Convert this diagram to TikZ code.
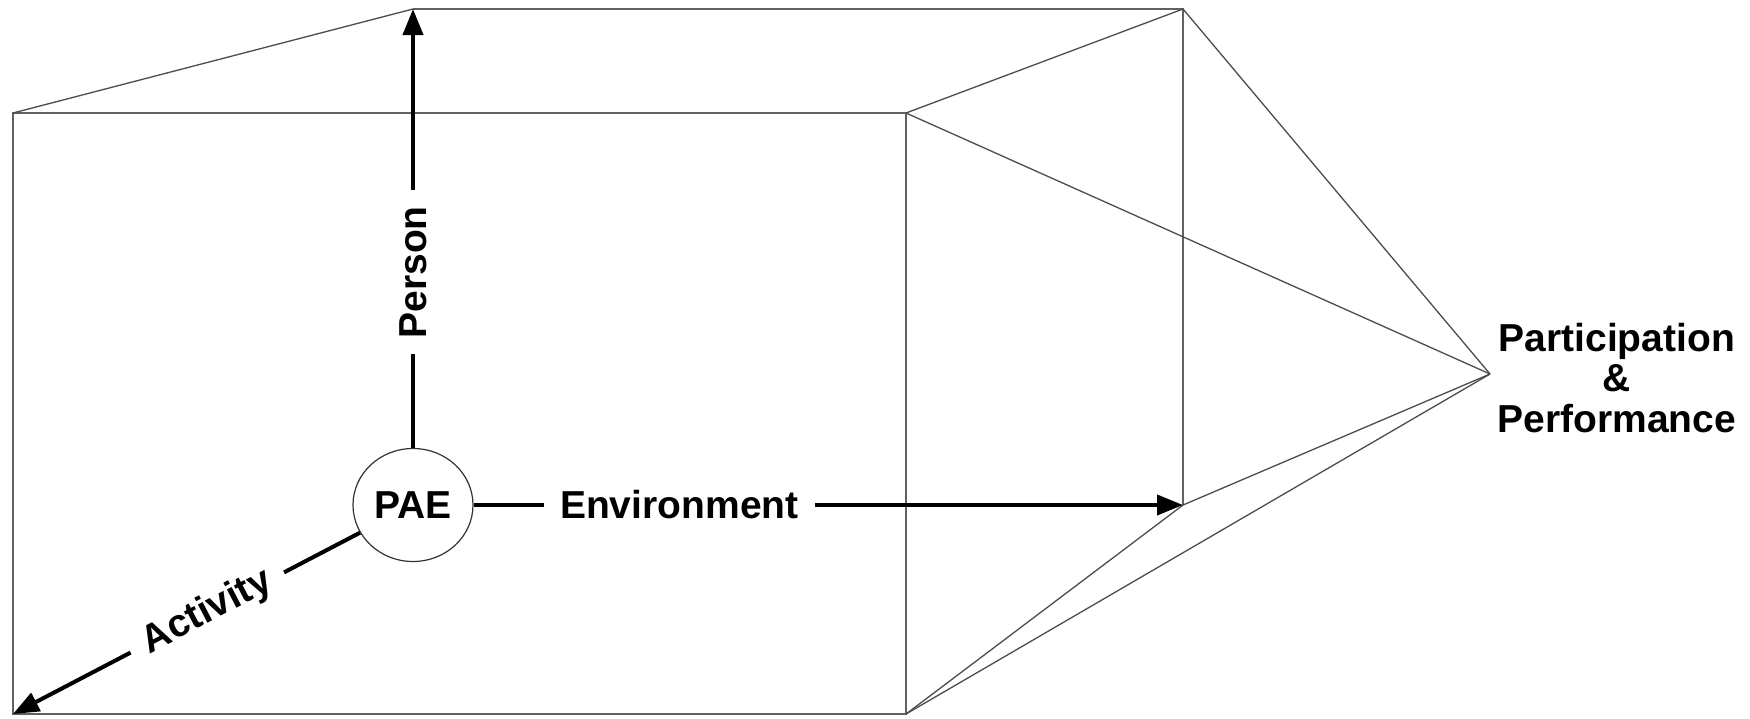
\documentclass[tikz,border=0pt]{standalone}
\usepackage{fontspec}
\setmainfont{Liberation Sans}
\usetikzlibrary{arrows.meta,shapes.geometric}
\begin{document}
\begin{tikzpicture}[x=1pt,y=-1pt,
  edge/.style={draw=black!62,line width=1.8pt},
  thinline/.style={draw=black!70,line width=1.3pt},
  axis/.style={draw=black,line width=4pt,-{Triangle[length=26pt,width=20pt]}},
  axlabel/.style={fill=white,inner xsep=16pt,inner ysep=4pt,font=\bfseries\fontsize{39}{41}\selectfont},
  txt/.style={font=\bfseries\fontsize{39}{40.5}\selectfont,align=center}]
\useasboundingbox (0,0) rectangle (1750,718);
% corners
\coordinate (ftl) at (13,113);
\coordinate (ftr) at (906,113);
\coordinate (fbl) at (13,714);
\coordinate (fbr) at (906,714);
\coordinate (btl) at (413,9);
\coordinate (btr) at (1183,9);
\coordinate (bbr) at (1183,505);
\coordinate (apex) at (1490,374);
% box
\draw[edge] (ftl) rectangle (fbr);
\draw[edge] (btl) -- (btr) -- (bbr);
\draw[thinline] (ftl) -- (btl);
\draw[thinline] (ftr) -- (btr);
\draw[thinline] (fbr) -- (bbr);
% pyramid to apex
\draw[thinline] (btr) -- (apex);
\draw[thinline] (ftr) -- (apex);
\draw[thinline] (bbr) -- (apex);
\draw[thinline] (fbr) -- (apex);
% centre
\node[draw=black!80,line width=1.2pt,ellipse,minimum width=120pt,minimum height=113pt,inner sep=0pt,fill=white,
  font=\bfseries\fontsize{39}{41}\selectfont] (pae) at (413,505) {PAE};
% axes
\draw[axis] (pae) -- node[axlabel,pos=0.29] (env) {Environment} (bbr);
\draw[axis] (pae) -- node[axlabel,pos=0.40,sloped] (per) {Person} (btl);
\draw[axis] (pae) -- node[axlabel,pos=0.44,sloped] (act) {Activity} (fbl);
% outcome label
\node[txt,anchor=west] (pp) at (1494,378) {Participation\\\&\\Performance};
\end{tikzpicture}
\end{document}
